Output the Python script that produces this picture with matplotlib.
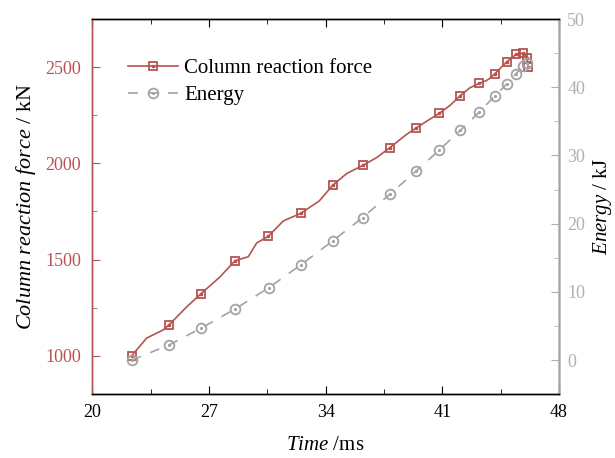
import numpy as np
import matplotlib
matplotlib.use("Agg")
import matplotlib.pyplot as plt
from matplotlib.legend_handler import HandlerTuple

plt.rcParams['font.family'] = ['Liberation Serif', 'DejaVu Serif']
plt.rcParams['mathtext.fontset'] = 'custom'
plt.rcParams['mathtext.rm'] = 'Liberation Serif'
plt.rcParams['mathtext.it'] = 'Liberation Serif:italic'

# Column reaction force (line with wiggles, markers on some points)
force_t = [22.36, 23.26, 24.26, 24.62, 25.66, 26.50, 27.66, 28.56, 29.36, 29.86,
           30.57, 31.46, 32.50, 33.62, 34.42, 35.26, 36.22, 37.06, 37.86, 38.86,
           39.40, 40.17, 40.82, 41.46, 42.08, 42.66, 43.20, 43.66, 43.90, 44.13,
           44.87, 45.42, 45.86, 46.07, 46.16]
force_kn = [1000, 1092, 1135, 1162, 1254, 1321, 1410, 1494, 1515, 1586,
            1622, 1701, 1740, 1805, 1886, 1947, 1989, 2030, 2082, 2151,
            2182, 2225, 2260, 2301, 2352, 2393, 2415, 2431, 2445, 2464,
            2528, 2566, 2572, 2549, 2499]
force_marks = [0, 3, 5, 7, 10, 12, 14, 16, 18, 20, 22, 24, 26, 29, 30, 31, 32, 33, 34]

# Energy
energy_t = [22.36, 24.62, 26.50, 28.56, 30.58, 32.50, 34.42, 36.22, 37.86,
            39.40, 40.82, 42.08, 43.20, 44.13, 44.87, 45.42, 45.86, 46.07]
energy_kj = [0.0, 2.25, 4.66, 7.49, 10.62, 13.95, 17.48, 20.9, 24.34,
             27.66, 30.8, 33.68, 36.33, 38.68, 40.5, 42.0, 43.08, 43.6]

red = '#b4544f'
gray = '#a3a3a3'
light = '#b0b0b0'

fig = plt.figure(figsize=(6.15, 4.58), dpi=100)
ax = fig.add_axes([0.150, 0.139, 0.759, 0.8195])
ax2 = ax.twinx()

l1, = ax.plot(force_t, force_kn, color=red, lw=1.2, marker='s', markevery=force_marks,
              ms=6, mfc='none', mec=red, mew=1.3, zorder=3)
d1, = ax.plot(np.array(force_t)[force_marks], np.array(force_kn)[force_marks], ls='none',
              marker='s', ms=1.5, color=red, zorder=4)

l2, = ax2.plot(energy_t, energy_kj, color=gray, lw=1.2, ls=(0, (6, 6)), marker='o',
               ms=7, mfc='none', mec=gray, mew=1.3)
d2, = ax2.plot(energy_t, energy_kj, ls='none', marker='o', ms=1.3, color=gray)

ax.set_xlim(20, 48)
ax.set_ylim(800, 2750)
ax2.set_ylim(-5, 50)
ax.set_xticks([20, 27, 34, 41, 48])
ax.set_xticks([23.5, 30.5, 37.5, 44.5], minor=True)
ax.set_yticks([1000, 1500, 2000, 2500])
ax.set_yticks([1250, 1750, 2250], minor=True)
ax2.set_yticks([0, 10, 20, 30, 40, 50])
ax2.set_yticks([5, 15, 25, 35, 45], minor=True)

ax.tick_params(axis='x', which='both', direction='in', top=True, labelsize=13, pad=7)
ax.tick_params(axis='x', which='major', length=6)
ax.tick_params(axis='x', which='minor', length=3.5)
ax.tick_params(axis='y', which='both', direction='in', colors=red, labelsize=13, pad=8)
ax.tick_params(axis='y', which='major', length=6)
ax.tick_params(axis='y', which='minor', length=3.5)
ax2.tick_params(axis='y', which='both', direction='in', colors=light, labelsize=13, pad=6)
ax2.tick_params(axis='y', which='major', length=6)
ax2.tick_params(axis='y', which='minor', length=3.5)

ax.spines['left'].set_color(red)
ax2.spines['left'].set_color(red)
ax2.spines['right'].set_color(gray)
for a in (ax, ax2):
    for s in a.spines.values():
        s.set_linewidth(1.0)

ax.set_xlabel(r'$\mathit{Time}$ /ms', fontsize=15, labelpad=11)
ax.set_ylabel(r'$\mathit{Column\ reaction\ force}$ / kN', fontsize=16, labelpad=5)
ax2.set_ylabel(r'$\mathit{Energy}$ / kJ', fontsize=15, labelpad=4)

ax.legend([(l1, d1), (l2, d2)], ['Column reaction force', 'Energy'],
          handler_map={tuple: HandlerTuple(ndivide=1)},
          loc='upper left', bbox_to_anchor=(0.036, 0.944), frameon=False,
          fontsize=15, handlelength=2.4, handletextpad=0.3, labelspacing=0.35)

fig.savefig('out.png', dpi=100)
